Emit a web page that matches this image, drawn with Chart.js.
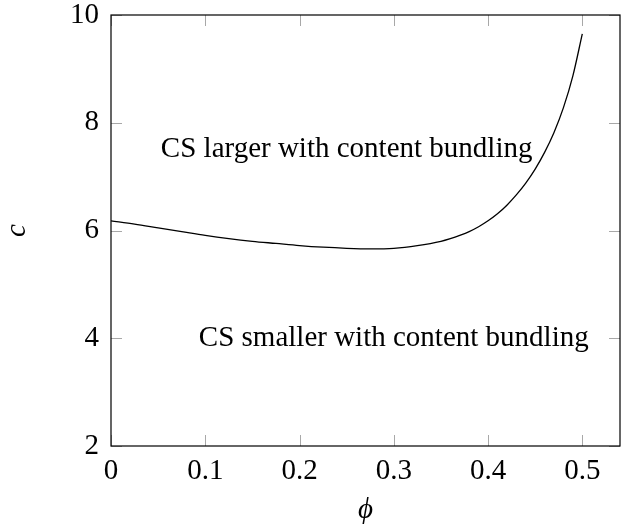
<!DOCTYPE html>
<html>
<head>
<meta charset="utf-8">
<script src="https://cdn.jsdelivr.net/npm/chart.js@4/dist/chart.umd.min.js"></script>
<style>
  html, body { margin: 0; padding: 0; background: #fff; }
  #wrap { width: 621px; height: 524px; }
</style>
</head>
<body>
<div id="wrap"><canvas id="c" width="621" height="524"></canvas></div>
<script>
// ---- data ----
const phiValues = [0, 0.025, 0.05, 0.075, 0.1, 0.125, 0.15, 0.175, 0.2, 0.225, 0.25, 0.275, 0.3, 0.325, 0.35, 0.36, 0.37, 0.38, 0.39, 0.40, 0.41, 0.42, 0.43, 0.44, 0.45, 0.46, 0.47, 0.48, 0.49, 0.50];
const cValues   = [6.18, 6.12, 6.05, 5.98, 5.91, 5.85, 5.80, 5.76, 5.72, 5.69, 5.67, 5.66, 5.67, 5.72, 5.80, 5.85, 5.91, 5.98, 6.07, 6.18, 6.31, 6.47, 6.66, 6.88, 7.14, 7.45, 7.82, 8.28, 8.87, 9.65];
const xTicks = [0, 0.1, 0.2, 0.3, 0.4, 0.5];
const yTicks = [2, 4, 6, 8, 10];
const annotationTexts = ["CS larger with content bundling", "CS smaller with content bundling"];
const annotationPhi = [0.25, 0.3];
const annotationC = [7.5, 4.0];

const FONT = "'Liberation Serif', 'Times New Roman', serif";

const framePlugin = {
  id: 'frame',
  afterDatasetsDraw(chart) {
    const ctx = chart.ctx;
    const a = chart.chartArea;
    const xs = chart.scales.x, ys = chart.scales.y;
    const L = 11;
    ctx.save();
    // inside ticks on all four sides
    ctx.strokeStyle = '#a8a8a8';
    ctx.lineWidth = 1;
    ctx.beginPath();
    xTicks.forEach(v => {
      const px = Math.round(xs.getPixelForValue(v)) + 0.5;
      ctx.moveTo(px, a.bottom); ctx.lineTo(px, a.bottom - L);
      ctx.moveTo(px, a.top); ctx.lineTo(px, a.top + L);
    });
    yTicks.forEach(v => {
      const py = Math.round(ys.getPixelForValue(v)) + 0.5;
      ctx.moveTo(a.left, py); ctx.lineTo(a.left + L, py);
      ctx.moveTo(a.right, py); ctx.lineTo(a.right - L, py);
    });
    ctx.stroke();
    // frame
    ctx.strokeStyle = '#000';
    ctx.lineWidth = 1.2;
    ctx.strokeRect(a.left, a.top, a.right - a.left, a.bottom - a.top);
    // annotations
    ctx.fillStyle = '#000';
    ctx.font = "29px " + FONT;
    ctx.textAlign = 'center';
    ctx.textBaseline = 'middle';
    annotationTexts.forEach((t, i) => {
      ctx.fillText(t, xs.getPixelForValue(annotationPhi[i]), ys.getPixelForValue(annotationC[i]));
    });
    ctx.restore();
  }
};

new Chart(document.getElementById('c'), {
  type: 'line',
  data: {
    datasets: [{
      data: phiValues.map((p, i) => ({ x: p, y: cValues[i] })),
      borderColor: '#000',
      borderWidth: 1.3,
      pointRadius: 0,
      cubicInterpolationMode: 'monotone',
      fill: false
    }]
  },
  options: {
    responsive: false,
    animation: false,
    devicePixelRatio: 1,
    layout: { padding: { top: 15, right: 1, left: 0, bottom: 0 } },
    plugins: { legend: { display: false }, tooltip: { enabled: false } },
    scales: {
      x: {
        type: 'linear',
        min: 0, max: 0.54,
        afterBuildTicks: s => { s.ticks = xTicks.map(v => ({ value: v })); },
        afterFit: s => { s.height = 78; s.paddingLeft = 0; s.paddingRight = 0; },
        grid: { display: false, drawTicks: false },
        border: { display: false },
        ticks: {
          color: '#000',
          padding: 8,
          font: { family: FONT, size: 29 },
          callback: v => String(v),
          maxRotation: 0
        },
        title: {
          display: true,
          text: 'ϕ',
          color: '#000',
          padding: { top: 4, bottom: -4 },
          font: { family: FONT, size: 29, style: 'italic' }
        }
      },
      y: {
        type: 'linear',
        min: 2, max: 10,
        afterBuildTicks: s => { s.ticks = yTicks.map(v => ({ value: v })); },
        afterFit: s => { s.width = 111; s.paddingTop = 0; s.paddingBottom = 0; },
        grid: { display: false, drawTicks: false },
        border: { display: false },
        ticks: {
          color: '#000',
          padding: 12,
          font: { family: FONT, size: 29 },
          callback: v => String(v)
        },
        title: {
          display: true,
          text: 'c',
          color: '#000',
          padding: { top: 0, bottom: 0 },
          font: { family: FONT, size: 29, style: 'italic' }
        }
      }
    }
  },
  plugins: [framePlugin]
});
</script>
</body>
</html>
